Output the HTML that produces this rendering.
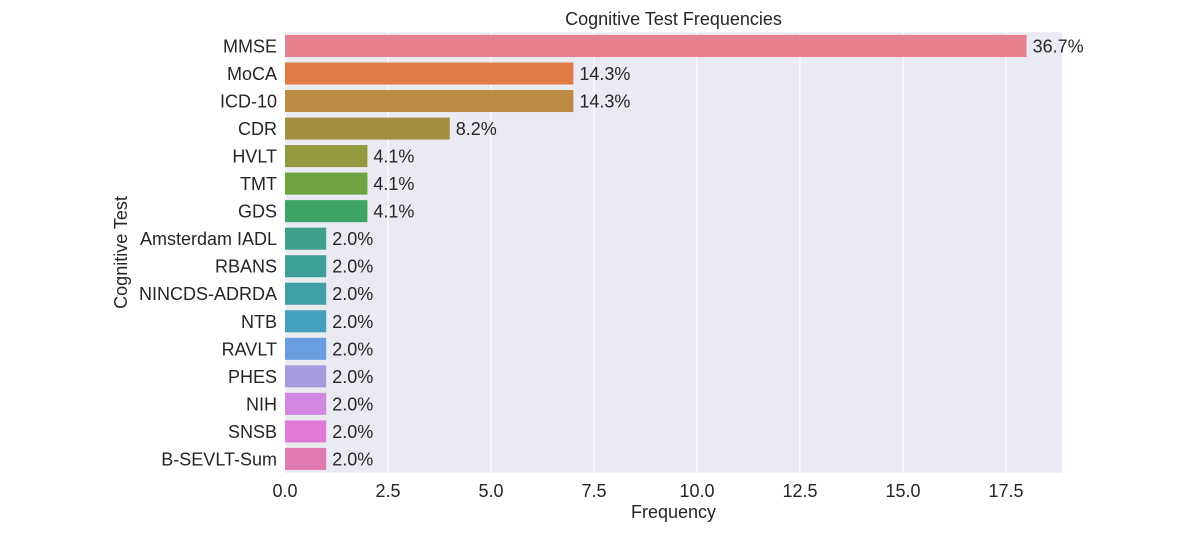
<!DOCTYPE html>
<html><head><meta charset="utf-8"><style>
body{margin:0;background:#fff;font-family:"Liberation Sans",sans-serif;}
svg text{font-family:"Liberation Sans",sans-serif;fill:#262626;}
</style></head><body>
<svg id="chart" width="1200" height="532"></svg>
<script>
const categories=["MMSE","MoCA","ICD-10","CDR","HVLT","TMT","GDS","Amsterdam IADL","RBANS","NINCDS-ADRDA","NTB","RAVLT","PHES","NIH","SNSB","B-SEVLT-Sum"];
const counts=[18,7,7,4,2,2,2,1,1,1,1,1,1,1,1,1];
const percentLabels=["36.7%","14.3%","14.3%","8.2%","4.1%","4.1%","4.1%","2.0%","2.0%","2.0%","2.0%","2.0%","2.0%","2.0%","2.0%","2.0%"];
const colors=["#e6808f","#e07b48","#bb8a45","#a29040","#92993f","#6ea33f","#3da463","#3ea08a","#3e9e98","#409ea6","#45a0bd","#6a9de0","#a79be0","#d088e0","#e07ad4","#e07bb0"];
const xTicks=[0,2.5,5,7.5,10,12.5,15,17.5];
const NS="http://www.w3.org/2000/svg";
const svg=document.getElementById("chart");
const L=285,R=1062,T=32.2,B=472.7,xMax=18.86;
const FS=18;
const x=v=>L+v/xMax*(R-L);
const step=(B-T)/categories.length;
const y=i=>T+step*(i+0.5);
function mk(tag,a,txt){const e=document.createElementNS(NS,tag);for(const k in a)e.setAttribute(k,a[k]);if(txt!==undefined)e.textContent=txt;svg.appendChild(e);return e;}
let bg=mk("rect",{x:L,y:T,width:R-L,height:B-T,fill:"#eaeaf2"});


xTicks.forEach(t=>{
 let g=mk("line",{x1:x(t),x2:x(t),y1:T,y2:B,stroke:"#fff","stroke-width":1.2});
 
 
 let tl=mk("text",{x:x(t),y:497,"text-anchor":"middle","font-size":FS},t.toFixed(1));
 
 
});
categories.forEach((c,i)=>{
 let h=step*0.8;
 let r=mk("rect",{x:L,y:y(i)-h/2,width:x(counts[i])-L,height:h,fill:colors[i]});
 
 
 let lb=mk("text",{x:L-8,y:y(i)+6.5,"text-anchor":"end","font-size":FS},c);
 
 
 let v=mk("text",{x:x(counts[i])+6,y:y(i)+6.5,"font-size":FS},percentLabels[i]);
 
 
});
let ti=mk("text",{x:(L+R)/2,y:25,"text-anchor":"middle","font-size":FS},"Cognitive Test Frequencies");


let xt=mk("text",{x:(L+R)/2,y:518,"text-anchor":"middle","font-size":FS},"Frequency");


let yt=mk("text",{x:127,y:(T+B)/2,"text-anchor":"middle","font-size":FS,transform:`rotate(-90 127 ${(T+B)/2})`},"Cognitive Test");


</script>
</body></html>
